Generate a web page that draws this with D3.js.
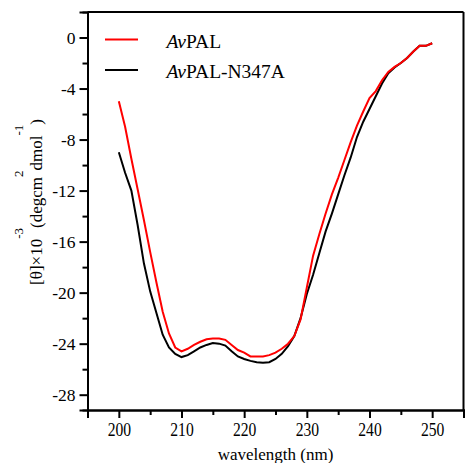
<!DOCTYPE html>
<html>
<head>
<meta charset="utf-8">
<script src="https://cdn.jsdelivr.net/npm/d3@7/dist/d3.min.js"></script>
<style>
  html, body { margin: 0; padding: 0; background: #fff; }
  svg text { fill: #000; }
</style>
</head>
<body>
<svg id="chart" width="465" height="463"></svg>
<script>
// ---- data ----
const wavelength = [200,201,202,203,204,205,206,207,208,209,210,211,212,213,214,215,216,217,218,219,220,221,222,223,224,225,226,227,228,229,230,231,232,233,234,235,236,237,238,239,240,241,242,243,244,245,246,247,248,249,250];
const avPAL = [-5.0,-7.0,-9.5,-11.9,-14.3,-16.8,-19.2,-21.5,-23.2,-24.3,-24.6,-24.4,-24.1,-23.85,-23.65,-23.6,-23.6,-23.7,-24.1,-24.5,-24.7,-25.0,-25.0,-25.0,-24.9,-24.7,-24.4,-24.0,-23.4,-22.1,-19.6,-17.1,-15.4,-13.8,-12.3,-11.0,-9.6,-8.2,-6.9,-5.8,-4.75,-4.2,-3.35,-2.7,-2.3,-2.0,-1.6,-1.1,-0.65,-0.65,-0.45];
const avPAL_N347A = [-9.0,-10.6,-12.0,-14.7,-17.7,-19.9,-21.6,-23.3,-24.3,-24.8,-25.05,-24.9,-24.6,-24.3,-24.1,-23.95,-24.0,-24.15,-24.6,-25.0,-25.2,-25.35,-25.45,-25.5,-25.45,-25.2,-24.8,-24.2,-23.4,-22.0,-20.1,-18.6,-16.9,-15.2,-13.8,-12.3,-10.8,-9.4,-7.8,-6.6,-5.6,-4.6,-3.6,-2.8,-2.35,-2.0,-1.6,-1.1,-0.65,-0.65,-0.45];
const seriesNames = ["AvPAL", "AvPAL-N347A"];
const seriesColors = ["#ff0000", "#000000"];
const xMajorTicks = [200,210,220,230,240,250];
const xMinorTicks = [195,205,215,225,235,245,255];
const yMajorTicks = [0,-4,-8,-12,-16,-20,-24,-28];
const yMinorTicks = [-2,-6,-10,-14,-18,-22,-26];

const FONT = "'Liberation Serif', 'Times New Roman', Times, 'DejaVu Serif', serif";

// ---- layout ----
const svg = d3.select("#chart");
const L = 87.5, R = 463.5, T = 12, B = 410;
const x = d3.scaleLinear().domain([195, 255]).range([L, R]);
const y = d3.scaleLinear().domain([2, -29.2]).range([T, B]);

// frame top / right
svg.append("line").attr("x1", L).attr("x2", R).attr("y1", T).attr("y2", T)
  .attr("stroke", "#000").attr("stroke-width", 2);
svg.append("line").attr("x1", R).attr("x2", R).attr("y1", T).attr("y2", B)
  .attr("stroke", "#000").attr("stroke-width", 2);

// axes
const xAxis = svg.append("g").attr("transform", `translate(0,${B})`)
  .call(d3.axisBottom(x).tickValues(xMajorTicks).tickSize(8).tickPadding(4).tickFormat(d3.format("d")));
svg.append("g").attr("transform", `translate(0,${B})`)
  .call(d3.axisBottom(x).tickValues(xMinorTicks).tickSize(5).tickFormat(""));
const yAxis = svg.append("g").attr("transform", `translate(${L},0)`)
  .call(d3.axisLeft(y).tickValues(yMajorTicks).tickSize(8).tickPadding(4).tickFormat(d => d3.format("d")(d).replace("−", "-")));
svg.append("g").attr("transform", `translate(${L},0)`)
  .call(d3.axisLeft(y).tickValues(yMinorTicks).tickSize(5).tickFormat(""));

svg.selectAll("g").attr("font-family", FONT);
svg.selectAll(".domain").attr("stroke", "#000").attr("stroke-width", 2);
svg.selectAll(".tick line").attr("stroke", "#000").attr("stroke-width", 2);

xAxis.selectAll("text")
  .attr("font-size", 19.5).attr("y", 26.5).attr("dy", 0)
  .attr("transform", "scale(0.8,1)")
  .attr("font-family", FONT);
yAxis.selectAll("text")
  .attr("font-size", 17.5).attr("x", -12).attr("dy", "0.34em")
  .attr("font-family", FONT);

// axis titles
svg.append("text").attr("x", 275.5).attr("y", 459.5).attr("text-anchor", "middle")
  .attr("font-family", FONT).attr("font-size", 17).text("wavelength (nm)");

const yt = svg.append("text")
  .attr("transform", "translate(41.5,202) rotate(-90)")
  .attr("text-anchor", "middle").attr("font-family", FONT).attr("font-size", 17);
yt.append("tspan").text("[θ]×10");
yt.append("tspan").attr("dy", -19).attr("font-size", 13).text("-3");
yt.append("tspan").attr("dy", 19).text("(degcm");
yt.append("tspan").attr("dy", -19).attr("font-size", 13).text("2");
yt.append("tspan").attr("dy", 19).text("dmol");
yt.append("tspan").attr("dy", -19).attr("font-size", 13).text("-1");
yt.append("tspan").attr("dy", 19).text(")");

// lines
const line = d3.line().x((d, i) => x(wavelength[i])).y(d => y(d));
svg.append("path").datum(avPAL_N347A).attr("d", line)
  .attr("fill", "none").attr("stroke", seriesColors[1]).attr("stroke-width", 2);
svg.append("path").datum(avPAL).attr("d", line)
  .attr("fill", "none").attr("stroke", seriesColors[0]).attr("stroke-width", 2);

// legend
const legY = [39.5, 70];
const legText = [["Av", "PAL"], ["Av", "PAL-N347A"]];
seriesNames.forEach((name, i) => {
  svg.append("line").attr("x1", 105).attr("x2", 138).attr("y1", legY[i]).attr("y2", legY[i])
    .attr("stroke", seriesColors[i]).attr("stroke-width", 2);
  const t = svg.append("text").attr("x", 166.5).attr("y", legY[i] + 8)
    .attr("font-family", FONT).attr("font-size", 19.5);
  t.append("tspan").attr("font-style", "italic").text(legText[i][0]);
  t.append("tspan").text(legText[i][1]);
});
</script>
</body>
</html>
